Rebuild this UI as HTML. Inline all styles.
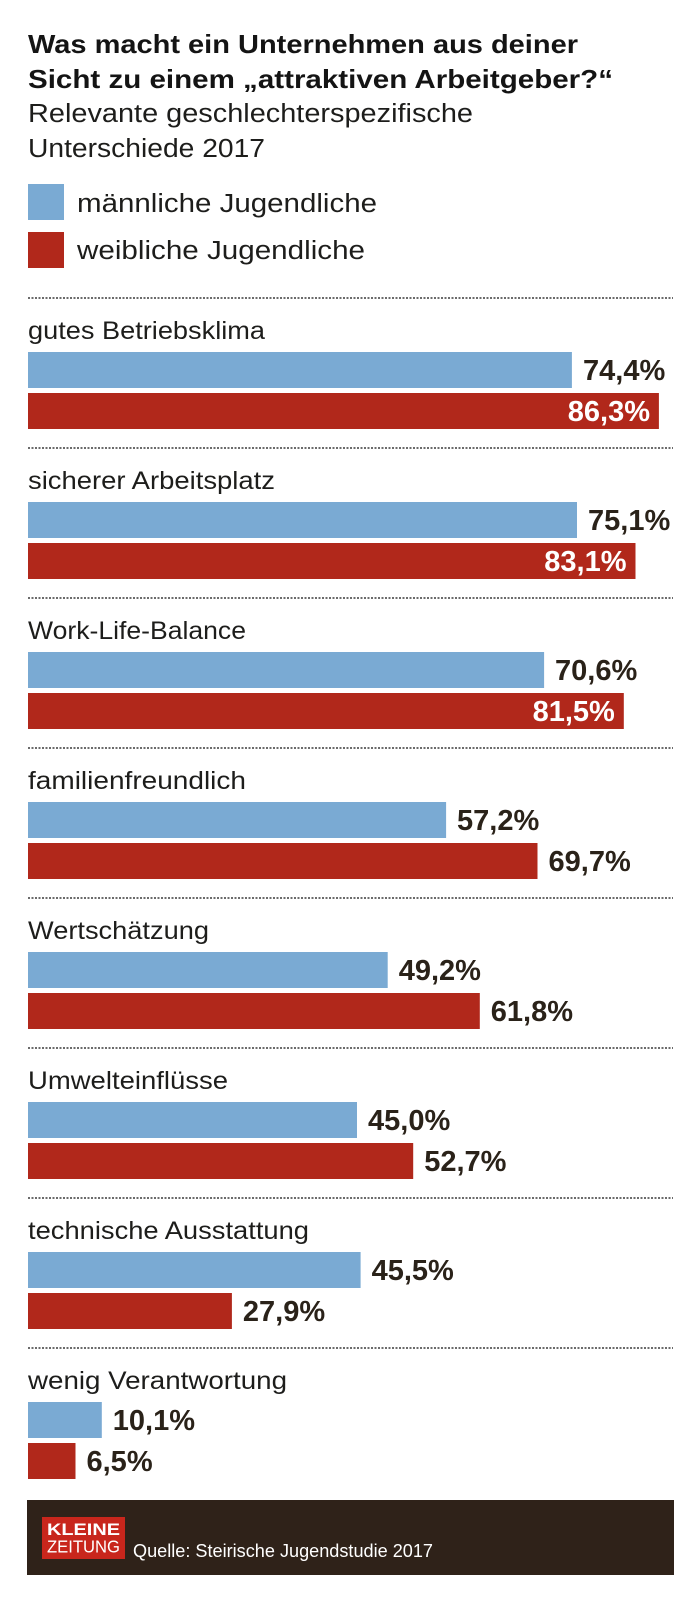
<!DOCTYPE html>
<html>
<head>
<meta charset="utf-8">
<style>
  html, body { margin: 0; padding: 0; background: #ffffff; }
  body { width: 700px; height: 1609px; overflow: hidden; }
  svg { display: block; }
  text { font-family: "Liberation Sans", "DejaVu Sans", sans-serif; }
</style>
</head>
<body>
<svg width="700" height="1609" viewBox="0 0 700 1609" xmlns="http://www.w3.org/2000/svg">
  <rect x="0" y="0" width="700" height="1609" fill="#ffffff"/>

  <!-- Title -->
  <text x="28" y="53" font-size="26" font-weight="bold" fill="#141414" textLength="550" lengthAdjust="spacingAndGlyphs">Was macht ein Unternehmen aus deiner</text>
  <text x="28" y="88" font-size="26" font-weight="bold" fill="#141414" textLength="585" lengthAdjust="spacingAndGlyphs">Sicht zu einem „attraktiven Arbeitgeber?“</text>
  <text x="28" y="122" font-size="25.5" fill="#1d1d1b" textLength="445" lengthAdjust="spacingAndGlyphs">Relevante geschlechterspezifische</text>
  <text x="28" y="157" font-size="25.5" fill="#1d1d1b" textLength="237" lengthAdjust="spacingAndGlyphs">Unterschiede 2017</text>

  <!-- Legend -->
  <rect x="28" y="184" width="36" height="36" fill="#7aaad3"/>
  <text x="77" y="212" font-size="25.5" fill="#1d1d1b" textLength="300" lengthAdjust="spacingAndGlyphs">männliche Jugendliche</text>
  <rect x="28" y="232" width="36" height="36" fill="#b1281b"/>
  <text x="77" y="259" font-size="25.5" fill="#1d1d1b" textLength="288" lengthAdjust="spacingAndGlyphs">weibliche Jugendliche</text>

  <!-- Dotted separators -->
  <g stroke="#3a3a3a" stroke-width="1.4" stroke-dasharray="2 1.5">
    <line x1="28" y1="298" x2="673" y2="298"/>
    <line x1="28" y1="448" x2="673" y2="448"/>
    <line x1="28" y1="598" x2="673" y2="598"/>
    <line x1="28" y1="748" x2="673" y2="748"/>
    <line x1="28" y1="898" x2="673" y2="898"/>
    <line x1="28" y1="1048" x2="673" y2="1048"/>
    <line x1="28" y1="1198" x2="673" y2="1198"/>
    <line x1="28" y1="1348" x2="673" y2="1348"/>
  </g>

  <!-- Category labels -->
  <g fill="#1d1d1b" font-size="25">
    <text x="28" y="339" textLength="237" lengthAdjust="spacingAndGlyphs">gutes Betriebsklima</text>
    <text x="28" y="489" textLength="247" lengthAdjust="spacingAndGlyphs">sicherer Arbeitsplatz</text>
    <text x="28" y="639" textLength="218" lengthAdjust="spacingAndGlyphs">Work-Life-Balance</text>
    <text x="28" y="789" textLength="218" lengthAdjust="spacingAndGlyphs">familienfreundlich</text>
    <text x="28" y="939" textLength="181" lengthAdjust="spacingAndGlyphs">Wertschätzung</text>
    <text x="28" y="1089" textLength="200" lengthAdjust="spacingAndGlyphs">Umwelteinflüsse</text>
    <text x="28" y="1239" textLength="281" lengthAdjust="spacingAndGlyphs">technische Ausstattung</text>
    <text x="28" y="1389" textLength="259" lengthAdjust="spacingAndGlyphs">wenig Verantwortung</text>
  </g>

  <!-- Blue bars -->
  <g fill="#7aaad3">
    <rect x="28" y="352" width="543.9" height="36"/>
    <rect x="28" y="502" width="549.0" height="36"/>
    <rect x="28" y="652" width="516.1" height="36"/>
    <rect x="28" y="802" width="418.1" height="36"/>
    <rect x="28" y="952" width="359.7" height="36"/>
    <rect x="28" y="1102" width="329.0" height="36"/>
    <rect x="28" y="1252" width="332.6" height="36"/>
    <rect x="28" y="1402" width="73.8" height="36"/>
  </g>

  <!-- Red bars -->
  <g fill="#b1281b">
    <rect x="28" y="393" width="630.9" height="36"/>
    <rect x="28" y="543" width="607.5" height="36"/>
    <rect x="28" y="693" width="595.8" height="36"/>
    <rect x="28" y="843" width="509.5" height="36"/>
    <rect x="28" y="993" width="451.8" height="36"/>
    <rect x="28" y="1143" width="385.2" height="36"/>
    <rect x="28" y="1293" width="203.9" height="36"/>
    <rect x="28" y="1443" width="47.5" height="36"/>
  </g>

  <!-- Value labels (dark) -->
  <g fill="#2a2219" font-size="29" font-weight="bold">
    <text x="583" y="380">74,4%</text>
    <text x="588" y="530">75,1%</text>
    <text x="555" y="680">70,6%</text>
    <text x="457" y="830">57,2%</text>
    <text x="548.5" y="871">69,7%</text>
    <text x="398.7" y="980">49,2%</text>
    <text x="490.8" y="1021">61,8%</text>
    <text x="368" y="1130">45,0%</text>
    <text x="424.2" y="1171">52,7%</text>
    <text x="371.6" y="1280">45,5%</text>
    <text x="242.9" y="1321">27,9%</text>
    <text x="112.8" y="1430">10,1%</text>
    <text x="86.5" y="1471">6,5%</text>
  </g>

  <!-- Value labels (white, inside red bars) -->
  <g fill="#ffffff" font-size="29" font-weight="bold" text-anchor="end">
    <text x="650" y="421">86,3%</text>
    <text x="626.5" y="571">83,1%</text>
    <text x="614.8" y="721">81,5%</text>
  </g>

  <!-- Footer -->
  <rect x="27" y="1500" width="647" height="75" fill="#2f2219"/>
  <rect x="42" y="1517" width="83" height="42" fill="#c8261c"/>
  <text x="47" y="1535" font-size="16.5" font-weight="bold" fill="#ffffff" textLength="73" lengthAdjust="spacingAndGlyphs">KLEINE</text>
  <text x="47" y="1552.5" font-size="17.5" fill="#ffffff" textLength="73" lengthAdjust="spacingAndGlyphs">ZEITUNG</text>
  <text x="133" y="1557" font-size="18" fill="#ffffff" textLength="300" lengthAdjust="spacingAndGlyphs">Quelle: Steirische Jugendstudie 2017</text>
</svg>
</body>
</html>
